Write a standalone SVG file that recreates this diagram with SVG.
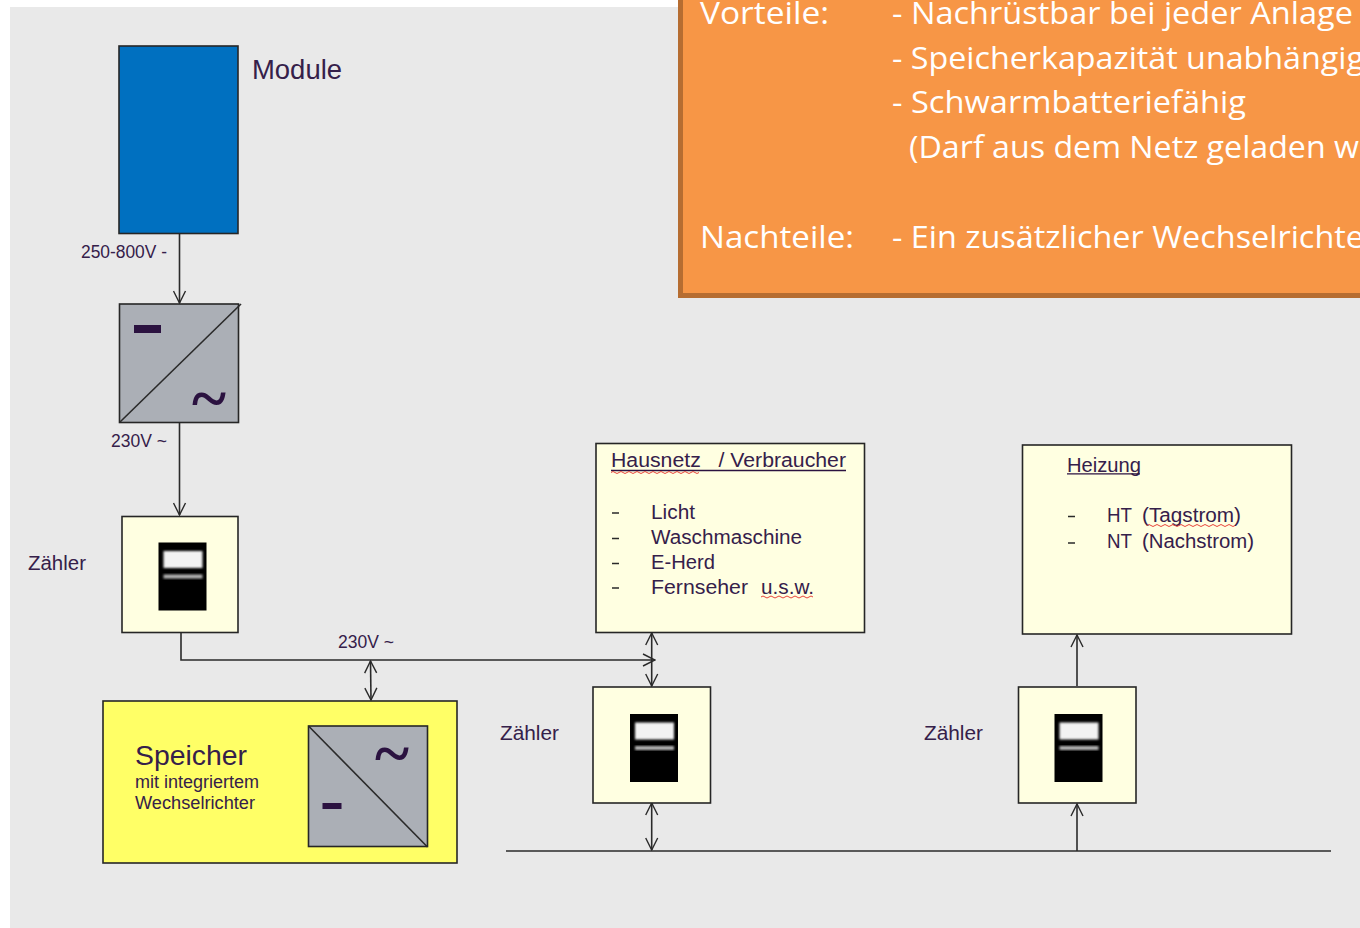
<svg xmlns="http://www.w3.org/2000/svg" xmlns:xlink="http://www.w3.org/1999/xlink" width="1360" height="928" viewBox="0 0 1360 928">
<style>
.box{stroke:#262626;stroke-width:1.6}
.cream{fill:#ffffe1}
.inv{fill:#abafb6}
.t{font-family:"Liberation Sans",Arial,sans-serif;fill:#35204a}
.s18{font-size:18px}
.s20{font-size:20px}
.o{font-family:"Open Sans","Noto Sans",sans-serif;font-size:31.500px;fill:#fff}
.line{fill:none;stroke:#2a2a2a;stroke-width:1.6}
.arrow{marker-end:url(#head)}
.both{marker-start:url(#head);marker-end:url(#head)}
.sq{fill:none;stroke:#e8443a;stroke-width:1}
.ul{stroke:#2b1240;stroke-width:1.3}
.tilde{font-family:"Liberation Serif",serif;font-weight:bold;font-size:66px;fill:#2b1240}
.bar{fill:#2b1240}
</style>
<defs>
<marker id="head" viewBox="0 0 14 14" markerWidth="14" markerHeight="14" refX="13" refY="7" orient="auto-start-reverse" markerUnits="userSpaceOnUse">
<path d="M1 1 L13 7 L1 13" fill="none" stroke="#2a2a2a" stroke-width="1.4"/>
</marker>
<filter id="soft" x="-20%" y="-20%" width="140%" height="140%"><feGaussianBlur stdDeviation="1"/></filter>
<g id="meter">
<rect x="0" y="0" width="48" height="68" fill="#000"/>
<rect x="5" y="8.500" width="39" height="17" fill="#f2f2f2" filter="url(#soft)"/>
<rect x="5" y="32" width="39" height="4" fill="#b4b4b4" filter="url(#soft)"/>
</g>
</defs>
<rect width="1360" height="928" fill="#fff"/>
<rect x="10" y="7" width="1350" height="921" fill="#e9e9e9"/>

<g id="connectors">
<path class="line arrow" d="M179.500 233V303"/>
<path class="line arrow" d="M179.500 423V515"/>
<path class="line arrow" d="M181 633V660H655"/>
<path class="line both" d="M370.500 661L371 700"/>
<path class="line both" d="M651.700 633V686"/>
<path class="line both" d="M651.700 803V850"/>
<path class="line arrow" d="M1077 686V635"/>
<path class="line arrow" d="M1077 851V804"/>
<path class="line" d="M506 851H1331"/>
</g>

<g id="module">
<rect class="box" x="119" y="46" width="119" height="187.500" fill="#0070c0"/>
<text class="t" x="252" y="78.500" font-size="27" textLength="90" lengthAdjust="spacingAndGlyphs">Module</text>
</g>
<text id="label-dc" class="t s18" x="81" y="258" textLength="86" lengthAdjust="spacingAndGlyphs">250-800V -</text>

<g id="inverter">
<rect class="box inv" x="119.500" y="304" width="119" height="118.500"/>
<path class="line" d="M120 422L241 304"/>
<rect class="bar" x="134" y="325" width="27" height="8"/>
<text class="tilde" x="192" y="420" textLength="34" lengthAdjust="spacingAndGlyphs">~</text>
</g>
<text id="label-ac1" class="t s18" x="111" y="447" textLength="56" lengthAdjust="spacingAndGlyphs">230V ~</text>

<g id="meter-1">
<rect class="box cream" x="122" y="516.500" width="116" height="116"/>
<use href="#meter" x="158.500" y="542.500"/>
<text class="t s20" x="28" y="570" textLength="58" lengthAdjust="spacingAndGlyphs">Zähler</text>
</g>
<text id="label-ac2" class="t s18" x="338" y="648" textLength="56" lengthAdjust="spacingAndGlyphs">230V ~</text>

<g id="storage">
<rect class="box" x="103" y="701" width="354" height="162" fill="#ffff66"/>
<text class="t" x="135" y="765" font-size="28" textLength="112" lengthAdjust="spacingAndGlyphs">Speicher</text>
<text class="t s18" x="135" y="788" textLength="124" lengthAdjust="spacingAndGlyphs">mit integriertem</text>
<text class="t s18" x="135" y="809" textLength="120" lengthAdjust="spacingAndGlyphs">Wechselrichter</text>
<rect class="box inv" x="308.500" y="726" width="119" height="120.500"/>
<path class="line" d="M308.500 726L427.500 847"/>
<rect class="bar" x="322.500" y="803" width="19" height="6"/>
<text class="tilde" x="375" y="775" textLength="34" lengthAdjust="spacingAndGlyphs">~</text>
</g>

<g id="hausnetz">
<rect class="box cream" x="596" y="443.500" width="268.500" height="189"/>
<text class="t s20" x="611" y="467" xml:space="preserve" textLength="235" lengthAdjust="spacingAndGlyphs">Hausnetz   / Verbraucher</text>
<path class="ul" d="M611 470.500H846"/>
<path class="sq" d="M611 472.500q2-2 4 0t4 0t4 0t4 0t4 0t4 0t4 0t4 0t4 0t4 0t4 0t4 0t4 0t4 0t4 0t4 0t4 0t4 0t4 0t4 0t4 0t4 0"/>
<path class="line" d="M612 513H619M612 538.500H619M612 563.500H619M612 588H619"/>
<text class="t s20" x="651" y="519" textLength="44" lengthAdjust="spacingAndGlyphs">Licht</text>
<text class="t s20" x="651" y="544" textLength="151" lengthAdjust="spacingAndGlyphs">Waschmaschine</text>
<text class="t s20" x="651" y="569" textLength="64" lengthAdjust="spacingAndGlyphs">E-Herd</text>
<text class="t s20" x="651" y="593.500" textLength="97" lengthAdjust="spacingAndGlyphs">Fernseher</text>
<text class="t s20" x="761" y="593.500" textLength="53" lengthAdjust="spacingAndGlyphs">u.s.w.</text>
<path class="sq" d="M761 597q2-2 4 0t4 0t4 0t4 0t4 0t4 0t4 0t4 0t4 0t4 0t4 0t4 0t4 0"/>
</g>

<g id="meter-2">
<rect class="box cream" x="593" y="687" width="117.500" height="116"/>
<use href="#meter" x="630" y="714"/>
<text class="t s20" x="500" y="740" textLength="59" lengthAdjust="spacingAndGlyphs">Zähler</text>
</g>

<g id="heizung">
<rect class="box cream" x="1022.500" y="445" width="269" height="189"/>
<text class="t s20" x="1067" y="472" textLength="74" lengthAdjust="spacingAndGlyphs">Heizung</text>
<path class="ul" d="M1067 473.800H1140"/>
<path class="line" d="M1068 516.500H1075M1068 543H1075"/>
<text class="t s20" x="1107" y="522" textLength="25" lengthAdjust="spacingAndGlyphs">HT</text>
<text class="t s20" x="1142" y="522" textLength="99" lengthAdjust="spacingAndGlyphs">(Tagstrom)</text>
<path class="sq" d="M1147 525.500q2-2 4 0t4 0t4 0t4 0t4 0t4 0t4 0t4 0t4 0t4 0t4 0t4 0t4 0t4 0t4 0t4 0t4 0t4 0t4 0t4 0t4 0t4 0"/>
<text class="t s20" x="1107" y="548" textLength="25" lengthAdjust="spacingAndGlyphs">NT</text>
<text class="t s20" x="1142" y="548" textLength="112" lengthAdjust="spacingAndGlyphs">(Nachstrom)</text>
</g>

<g id="meter-3">
<rect class="box cream" x="1018.500" y="687" width="117.500" height="116"/>
<use href="#meter" x="1054.500" y="714"/>
<text class="t s20" x="924" y="740" textLength="59" lengthAdjust="spacingAndGlyphs">Zähler</text>
</g>

<g id="notes">
<rect x="680.500" y="-10" width="700" height="305.500" fill="#f79646" stroke="#b66d31" stroke-width="5"/>
<text class="o" x="700" y="24" textLength="129" lengthAdjust="spacingAndGlyphs">Vorteile:</text>
<text class="o" x="892" y="24" textLength="461" lengthAdjust="spacingAndGlyphs">- Nachrüstbar bei jeder Anlage</text>
<text class="o" x="892" y="68.500" textLength="472" lengthAdjust="spacingAndGlyphs">- Speicherkapazität unabhängig</text>
<text class="o" x="892" y="113" textLength="354" lengthAdjust="spacingAndGlyphs">- Schwarmbatteriefähig</text>
<text class="o" x="909" y="158" textLength="450" lengthAdjust="spacingAndGlyphs">(Darf aus dem Netz geladen w</text>
<text class="o" x="700" y="248" textLength="154" lengthAdjust="spacingAndGlyphs">Nachteile:</text>
<text class="o" x="892" y="248" textLength="472" lengthAdjust="spacingAndGlyphs">- Ein zusätzlicher Wechselrichte</text>
</g>
</svg>
